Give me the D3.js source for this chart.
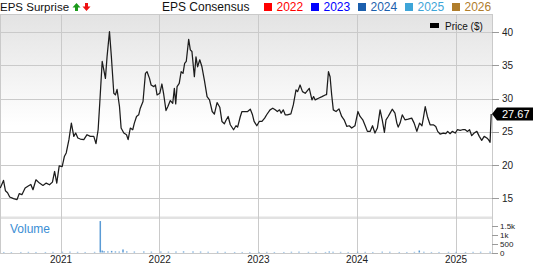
<!DOCTYPE html>
<html lang="en">
<head>
<meta charset="utf-8">
<title>Price, Consensus and EPS Surprise</title>
<style>
  body { margin: 0; background: #fff; }
  svg { display: block; font-family: "Liberation Sans", Arial, sans-serif; }
  .grid line { stroke: #cacaca; stroke-width: 1; shape-rendering: crispEdges; }
  .axis text { fill: #222; }
  .axis line { stroke: #9a9a9a; shape-rendering: crispEdges; }
</style>
</head>
<body>
<div id="chart"></div>
<script src="https://cdn.jsdelivr.net/npm/d3@7"></script>
<script>
// weekly-ish closing prices
var dates = ["2020-05-23","2020-06-04","2020-06-11","2020-06-19","2020-06-27","2020-07-11","2020-07-24","2020-08-01","2020-08-11","2020-08-23",
  "2020-09-05","2020-09-13","2020-09-21","2020-10-02","2020-10-15","2020-10-28","2020-11-09","2020-11-21","2020-12-02","2020-12-10",
  "2020-12-18","2020-12-27","2021-01-07","2021-01-15","2021-01-22","2021-02-01","2021-02-10","2021-02-19","2021-02-26","2021-03-06",
  "2021-03-15","2021-03-28","2021-04-09","2021-04-21","2021-05-04","2021-05-12","2021-05-20","2021-05-26","2021-06-04","2021-06-16",
  "2021-06-22","2021-07-01","2021-07-08","2021-07-17","2021-07-23","2021-07-29","2021-08-07","2021-08-13","2021-08-23","2021-09-02",
  "2021-09-08","2021-09-16","2021-09-25","2021-10-01","2021-10-09","2021-10-17","2021-10-23","2021-11-02","2021-11-11","2021-11-17",
  "2021-11-26","2021-12-02","2021-12-12","2021-12-18","2021-12-24","2022-01-03","2022-01-11","2022-01-17","2022-01-26","2022-02-02",
  "2022-02-11","2022-02-20","2022-02-26","2022-03-03","2022-03-08","2022-03-16","2022-03-23","2022-03-30","2022-04-05","2022-04-11",
  "2022-04-20","2022-04-26","2022-05-02","2022-05-11","2022-05-17","2022-05-23","2022-05-31","2022-06-08","2022-06-17","2022-06-27",
  "2022-07-06","2022-07-16","2022-07-24","2022-08-03","2022-08-13","2022-08-21","2022-08-30","2022-09-06","2022-09-13","2022-09-21",
  "2022-10-03","2022-10-12","2022-10-18","2022-10-28","2022-11-03","2022-11-15","2022-11-24","2022-12-04","2022-12-12","2022-12-18",
  "2022-12-28","2023-01-06","2023-01-16","2023-01-26","2023-02-03","2023-02-15","2023-02-25","2023-03-06","2023-03-14","2023-03-22",
  "2023-03-28","2023-04-05","2023-04-12","2023-04-20","2023-05-03","2023-05-12","2023-05-22","2023-05-28","2023-06-06","2023-06-15",
  "2023-06-25","2023-07-10","2023-07-20","2023-07-26","2023-08-01","2023-08-13","2023-08-26","2023-09-07","2023-09-12","2023-09-19",
  "2023-09-25","2023-10-01","2023-10-07","2023-10-17","2023-10-28","2023-11-07","2023-11-16","2023-11-26","2023-12-05","2023-12-14",
  "2023-12-26","2024-01-06","2024-01-14","2024-01-24","2024-02-02","2024-02-10","2024-02-20","2024-02-29","2024-03-09","2024-03-18",
  "2024-03-28","2024-04-05","2024-04-13","2024-04-19","2024-04-27","2024-05-04","2024-05-12","2024-05-22","2024-05-29","2024-06-03",
  "2024-06-10","2024-06-18","2024-06-28","2024-07-10","2024-07-23","2024-08-01","2024-08-11","2024-08-21","2024-08-30","2024-09-04",
  "2024-09-11","2024-09-19","2024-09-29","2024-10-11","2024-10-20","2024-10-27","2024-11-05","2024-11-17","2024-11-26","2024-12-03",
  "2024-12-12","2024-12-20","2024-12-31","2025-01-08","2025-01-18","2025-01-27","2025-02-06","2025-02-14","2025-02-22","2025-03-02",
  "2025-03-11","2025-03-21","2025-03-30","2025-04-08","2025-04-17","2025-04-27","2025-05-03","2025-05-09","2025-05-13"];

var prices = [16.5,17.65,16.1,15.8,15.15,14.9,14.75,15.65,15.5,16.5,
  16.85,17.05,16.25,17.75,17.25,16.9,17.25,17.0,17.4,19.0,
  17.25,19.85,19.75,21.25,21.8,23.8,26.3,24.3,24.8,24.05,
  23.9,23.8,24.55,24.3,24.3,23.2,25.3,29.3,35.6,33.05,
  36.3,40.1,36.3,30.8,30.55,31.4,28.8,25.55,24.8,24.55,
  23.8,25.55,25.3,26.3,27.3,27.55,28.55,29.55,33.8,34.05,
  33.05,32.05,31.8,32.05,30.55,30.8,32.2,30.8,28.2,28.8,
  29.7,29.3,31.55,29.2,31.8,32.3,34.05,33.8,35.3,35.6,
  38.95,37.35,37.1,33.3,36.3,34.8,35.85,34.8,32.8,30.3,
  29.8,28.05,27.65,29.4,28.7,26.55,26.2,26.8,27.3,26.05,
  25.3,25.9,25.7,27.3,28.05,28.05,28.05,28.4,27.55,26.55,
  25.9,26.55,26.55,27.05,27.6,28.3,28.55,28.3,28.05,28.3,
  27.8,28.3,27.55,27.55,27.7,29.05,31.3,31.05,32.05,31.05,
  30.8,31.55,29.8,30.3,29.8,30.05,30.3,30.55,30.6,34.05,
  33.3,30.55,28.3,28.05,28.45,27.3,26.8,25.8,25.9,25.55,
  25.9,28.05,27.3,26.8,25.9,25.05,25.05,25.9,24.8,25.55,
  28.3,26.8,24.9,26.8,27.3,27.8,28.4,27.8,26.3,25.7,
  26.3,27.55,26.8,26.9,27.05,26.3,25.05,26.3,25.9,27.05,
  28.8,27.3,26.05,26.05,25.8,25.05,24.65,24.8,24.7,25.05,
  24.7,25.05,24.8,25.3,25.2,25.3,25.3,25.05,25.3,24.4,
  24.8,25.05,24.3,23.7,24.3,24.05,23.8,23.4,27.67];

// volume bars (thousands shown as k on the axis)
var volDates = ["2020-06-05","2020-07-03","2020-08-07","2020-09-04","2020-10-02","2020-11-06","2020-12-04","2021-01-08","2021-02-05","2021-03-05",
  "2021-04-02","2021-05-07","2021-05-28","2021-06-04","2021-06-11","2021-06-25","2021-07-09","2021-07-23","2021-08-06","2021-08-20",
  "2021-09-03","2021-10-01","2021-11-05","2021-12-03","2022-01-07","2022-02-04","2022-03-04","2022-04-01","2022-05-06","2022-06-03",
  "2022-07-01","2022-08-05","2022-09-02","2022-10-07","2022-11-04","2022-12-02","2023-01-06","2023-02-03","2023-03-03","2023-04-07",
  "2023-05-05","2023-06-02","2023-07-07","2023-08-04","2023-09-08","2023-09-22","2023-10-06","2023-11-03","2023-12-01","2024-01-05",
  "2024-02-02","2024-03-01","2024-04-05","2024-05-03","2024-06-07","2024-07-05","2024-08-02","2024-08-20","2024-09-06","2024-10-04",
  "2024-11-01","2024-12-06","2025-01-03","2025-02-07","2025-03-07","2025-04-04","2025-05-09"];
var volumes = [30,25,30,35,30,30,35,40,45,35,
  30,35,1760,110,70,60,90,60,50,170,
  60,50,55,45,50,45,50,60,55,50,
  40,45,35,30,30,30,30,35,30,30,
  40,45,35,35,30,55,40,35,30,40,
  35,30,45,40,30,30,35,110,40,30,
  30,35,35,30,35,40,45];

var priceTicks = [15, 20, 25, 30, 35, 40];
var volTicks = [0, 500, 1000, 1500];
var volTickLabels = ["0", "500", "1k", "1.5k"];
var yearTicks = ["2021", "2022", "2023", "2024", "2025"];
var consensusYears = ["2022", "2023", "2024", "2025", "2026"];
var consensusColors = ["#ff0000", "#0000ff", "#1b5fad", "#3ea5d8", "#b07d2b"];
var lastPrice = 27.67;

var W = 533, H = 264,
    plotRight = 492,
    priceTop = 14, priceBottom = 217,
    volTop = 219, volBottom = 253;

var parse = d3.timeParse("%Y-%m-%d");

var svg = d3.select("#chart").append("svg")
    .attr("width", W)
    .attr("height", H);

var x = d3.scaleTime()
    .domain([parse("2020-05-22"), parse("2025-05-16")])
    .range([0, plotRight]);

var y = d3.scaleLinear().domain([15, 40]).range([198, 32.3]);
var yVol = d3.scaleLinear().domain([0, 1500]).range([252.5, 225.7]);

// background gradient of the price panel
var defs = svg.append("defs");
var grad = defs.append("linearGradient").attr("id", "bg")
    .attr("x1", 0).attr("y1", 0).attr("x2", 0).attr("y2", 1);
grad.append("stop").attr("offset", 0).attr("stop-color", "#e3e3e3");
grad.append("stop").attr("offset", 0.55).attr("stop-color", "#ffffff");
defs.append("clipPath").attr("id", "clipPrice")
  .append("rect").attr("x", 0).attr("y", priceTop).attr("width", plotRight).attr("height", priceBottom - priceTop);

svg.append("rect")
    .attr("x", 0).attr("y", priceTop)
    .attr("width", plotRight).attr("height", priceBottom - priceTop)
    .attr("fill", "url(#bg)");

// separator between panels
svg.append("rect")
    .attr("x", 0).attr("y", priceBottom - 0.5)
    .attr("width", plotRight).attr("height", volTop - priceBottom + 0.5)
    .attr("fill", "#e2e2e2");

// grid
var grid = svg.append("g").attr("class", "grid");
grid.selectAll("line.h").data(priceTicks).enter().append("line")
    .attr("x1", 0).attr("x2", plotRight)
    .attr("y1", function(d){ return Math.round(y(d)) + 0.5; })
    .attr("y2", function(d){ return Math.round(y(d)) + 0.5; });
grid.selectAll("line.v").data(yearTicks).enter().append("line")
    .attr("x1", function(d){ return Math.round(x(parse(d + "-01-01"))) + 0.5; })
    .attr("x2", function(d){ return Math.round(x(parse(d + "-01-01"))) + 0.5; })
    .attr("y1", priceTop).attr("y2", volBottom);
// frame
grid.append("line").attr("x1", 0).attr("x2", plotRight).attr("y1", priceTop + 0.5).attr("y2", priceTop + 0.5);
grid.append("line").attr("x1", 0).attr("x2", plotRight).attr("y1", volBottom + 0.5).attr("y2", volBottom + 0.5);
grid.append("line").attr("x1", plotRight + 0.5).attr("x2", plotRight + 0.5).attr("y1", priceTop).attr("y2", volBottom + 1);
grid.append("line").attr("x1", 0.5).attr("x2", 0.5).attr("y1", priceTop).attr("y2", volBottom + 1);

// volume bars
svg.append("g").selectAll("rect").data(volDates).enter().append("rect")
    .attr("x", function(d){ return x(parse(d)) - 0.75; })
    .attr("width", 1.5)
    .attr("y", function(d, i){ return yVol(volumes[i]); })
    .attr("height", function(d, i){ return yVol(0) - yVol(volumes[i]); })
    .attr("fill", "#5b9bd5");

svg.append("text")
    .attr("x", 10).attr("y", 233)
    .attr("fill", "#3b8ed4")
    .style("font-size", "12px")
    .text("Volume");

// price line
var line = d3.line()
    .x(function(d){ return x(parse(d)); })
    .y(function(d, i){ return y(prices[i]); });

svg.append("path")
    .datum(dates)
    .attr("clip-path", "url(#clipPrice)")
    .attr("fill", "none")
    .attr("stroke", "#1c1c1c")
    .attr("stroke-width", 1.25)
    .attr("stroke-linejoin", "round")
    .attr("d", line);

// right axes
svg.append("g").attr("class", "axis")
    .attr("transform", "translate(" + plotRight + ",0)")
    .call(d3.axisRight(y).tickValues(priceTicks).tickSize(7).tickPadding(3))
    .call(function(g){ g.select(".domain").remove(); })
    .selectAll("text").style("font-size", "10px");

svg.append("g").attr("class", "axis")
    .attr("transform", "translate(" + plotRight + ",0)")
    .call(d3.axisRight(yVol).tickValues(volTicks).tickSize(6).tickPadding(2)
      .tickFormat(function(d, i){ return volTickLabels[i]; }))
    .call(function(g){ g.select(".domain").remove(); })
    .selectAll("text").style("font-size", "8px");

// year labels
svg.append("g").attr("class", "axis")
    .attr("transform", "translate(0," + (volBottom + 1) + ")")
    .call(d3.axisBottom(x).tickValues(yearTicks.map(function(d){ return parse(d + "-01-01"); }))
      .tickSize(0).tickPadding(2).tickFormat(d3.timeFormat("%Y")))
    .call(function(g){ g.select(".domain").remove(); })
    .selectAll("text").style("font-size", "10px");

// last price tag
var yp = y(lastPrice);
svg.append("path")
    .attr("d", "M" + plotRight + "," + yp + "L" + (plotRight + 5) + "," + (yp - 6.5) +
          "L" + W + "," + (yp - 6.5) + "L" + W + "," + (yp + 6.5) + "L" + (plotRight + 5) + "," + (yp + 6.5) + "Z")
    .attr("fill", "#000");
svg.append("text")
    .attr("x", plotRight + 10).attr("y", yp).attr("dy", "0.36em")
    .attr("fill", "#fff").style("font-size", "11px")
    .text(lastPrice.toFixed(2));

// price legend
svg.append("rect").attr("x", 430).attr("y", 23).attr("width", 9).attr("height", 5).attr("fill", "#000");
svg.append("text").attr("x", 445).attr("y", 29.5).style("font-size", "10px").attr("fill", "#111").text("Price ($)");

// header
svg.append("text").attr("x", 0).attr("y", 11).style("font-size", "11.5px").attr("fill", "#111").text("EPS Surprise");
svg.append("path").attr("d", "M72.5,7.5L76.5,3L80.5,7.5L78,7.5L78,11L75,11L75,7.5Z").attr("fill", "#1a9a1a");
svg.append("path").attr("d", "M82.5,6.5L86.5,11L90.5,6.5L88,6.5L88,3L85,3L85,6.5Z").attr("fill", "#ee1111");

svg.append("text").attr("x", 162).attr("y", 11).style("font-size", "12px").attr("fill", "#111").text("EPS Consensus");

var leg = svg.append("g").selectAll("g").data(consensusYears).enter().append("g")
    .attr("transform", function(d, i){ return "translate(" + (264 + i * 47) + ",0)"; });
leg.append("rect").attr("x", 0).attr("y", 3).attr("width", 8).attr("height", 8)
    .attr("fill", function(d, i){ return consensusColors[i]; });
leg.append("text").attr("x", 12.5).attr("y", 11).style("font-size", "12px")
    .attr("fill", function(d, i){ return consensusColors[i]; })
    .text(function(d){ return d; });
</script>
</body>
</html>
